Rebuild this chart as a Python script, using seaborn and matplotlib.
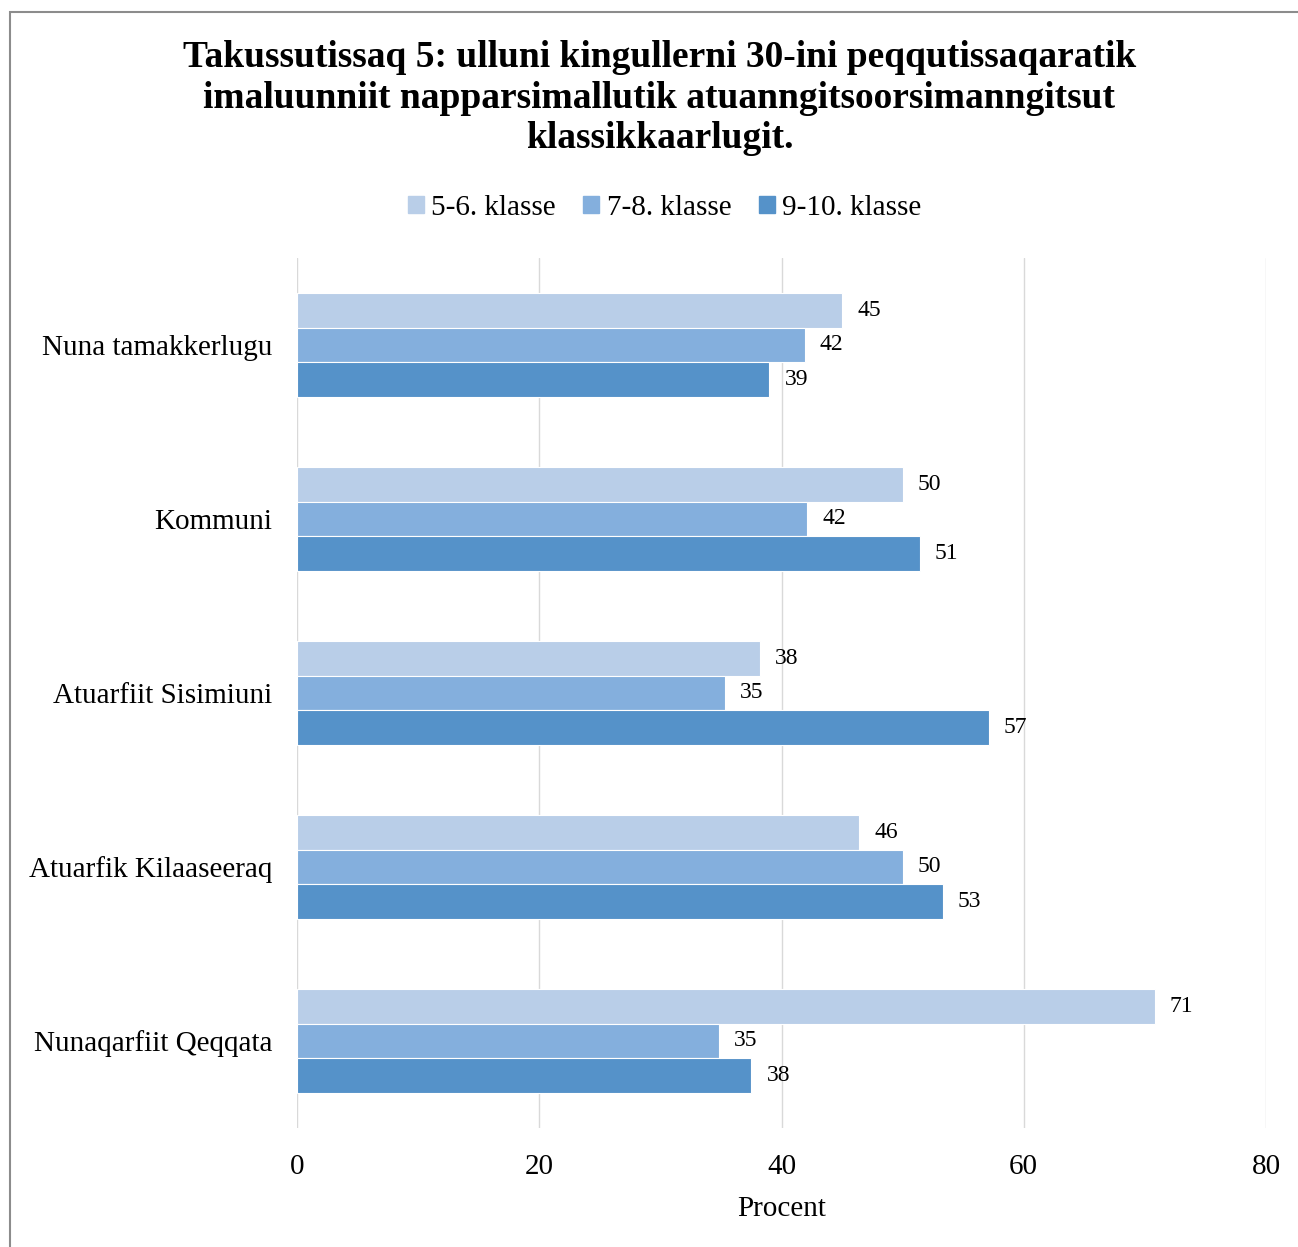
import pandas as pd
import matplotlib.pyplot as plt
import seaborn as sns
from matplotlib.patches import Rectangle

# DATA
skoler = ["Nuna tamakkerlugu", "Kommuni", "Atuarfiit Sisimiuni",
          "Atuarfik Kilaaseeraq", "Nunaqarfiit Qeqqata"]
klasser = ["5-6. klasse", "7-8. klasse", "9-10. klasse"]
klasse_5_6 = [45.0, 50.0, 38.2, 46.4, 70.8]
klasse_7_8 = [41.9, 42.1, 35.3, 50.0, 34.8]
klasse_9_10 = [39.0, 51.4, 57.1, 53.3, 37.5]

titel = ("Takussutissaq 5: ulluni kingullerni 30-ini peqqutissaqaratik\n"
         "imaluunniit napparsimallutik atuanngitsoorsimanngitsut\n"
         "klassikkaarlugit.")

df = pd.DataFrame({
    "Skole": skoler * 3,
    "Klasse": [k for k in klasser for _ in skoler],
    "Procent": klasse_5_6 + klasse_7_8 + klasse_9_10,
})

farver = ["#B9CEE8", "#84AFDD", "#5592C9"]

sns.set_theme(style="white")
plt.rcParams["font.family"] = ["Liberation Serif", "DejaVu Serif"]
plt.rcParams["text.color"] = "black"
plt.rcParams["axes.labelcolor"] = "black"
plt.rcParams["xtick.color"] = "black"
plt.rcParams["ytick.color"] = "black"

fig = plt.figure(figsize=(12.98, 12.47), dpi=100)
ax = fig.add_axes([297 / 1298, 1 - 1128 / 1247, (1266 - 297) / 1298, (1128 - 258) / 1247])

sns.barplot(data=df, x="Procent", y="Skole", hue="Klasse", orient="h",
            palette=farver, saturation=1, width=0.6, edgecolor="white",
            linewidth=0.8, ax=ax, legend=False)

for c in ax.containers:
    txts = ax.bar_label(c, labels=[f"{v:.0f}" for v in c.datavalues], padding=11,
                        fontsize=17, color="black")
    for t in txts:
        t.set_y(t.get_position()[1] + 0.02)

ax.set_xlim(0, 80)
ax.set_xticks([0, 20, 40, 60, 80])
ax.set_ylim(4.5, -0.5)
ax.grid(axis="x", color="#D9D9D9", linewidth=1)
ax.set_axisbelow(True)
for s in ax.spines.values():
    s.set_visible(False)
ax.tick_params(axis="x", labelsize=21, pad=19, length=0)
ax.tick_params(axis="y", labelsize=21, pad=18, length=0)
ax.set_ylabel("")
ax.set_xlabel("Procent", fontsize=21, labelpad=11)

fig.text(0.508, 1 - 98 / 1247, titel, ha="center", va="center", fontsize=27,
         fontweight="bold", linespacing=1.22)

handles = [plt.Rectangle((0, 0), 1, 1, color=f) for f in farver]
fig.legend(handles, klasser, loc="center", bbox_to_anchor=(0.512, 1 - 208 / 1247),
           ncol=3, frameon=False, fontsize=21, handlelength=0.55, handleheight=0.55,
           handletextpad=0.25, columnspacing=0.95)

# figure border (right and bottom edges fall outside the image)
fig.patches.append(Rectangle((10, -200), 1400, 1247 - 12 + 200, transform=None,
                             fill=False, edgecolor="#8C8C8C", linewidth=1.5))

fig.savefig("out.png", dpi=100)
